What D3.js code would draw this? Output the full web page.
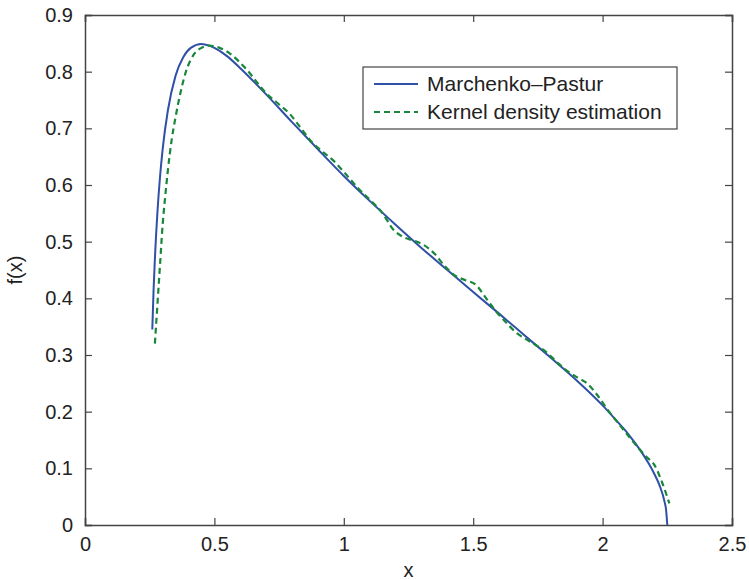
<!DOCTYPE html>
<html>
<head>
<meta charset="utf-8">
<title>Marchenko-Pastur vs KDE</title>
<script src="https://cdn.jsdelivr.net/npm/d3@7"></script>
<style>
body { margin: 0; background: #fff; }
svg text { font-family: "Liberation Sans", Arial, Helvetica, sans-serif; fill: #222; }
.line { fill: none; }
</style>
</head>
<body>
<script>
// x ticks / y ticks
var xTicks = [0, 0.5, 1, 1.5, 2, 2.5];
var yTicks = [0, 0.1, 0.2, 0.3, 0.4, 0.5, 0.6, 0.7, 0.8, 0.9];

// Marchenko-Pastur curve
var mpX = [0.26, 0.265, 0.27, 0.28, 0.29, 0.30, 0.32, 0.35, 0.38, 0.41, 0.45, 0.48, 0.50, 0.55, 0.60,
    0.70, 0.80, 0.90, 1.00, 1.10, 1.20, 1.30, 1.40, 1.50, 1.60, 1.70, 1.80, 1.90, 2.00,
    2.05, 2.10, 2.15, 2.18, 2.20, 2.22, 2.24, 2.245, 2.25];
var mpY = [0.345, 0.415, 0.469, 0.553, 0.615, 0.663, 0.731, 0.793, 0.826, 0.8425, 0.849, 0.846, 0.842, 0.827, 0.806,
    0.760, 0.711, 0.663, 0.616, 0.572, 0.530, 0.489, 0.450, 0.411, 0.373, 0.334, 0.295, 0.255, 0.211,
    0.186, 0.160, 0.129, 0.107, 0.090, 0.070, 0.040, 0.028, 0.0];

// kernel density estimate
var kdeX = [0.27, 0.28, 0.29, 0.30, 0.31, 0.32, 0.335, 0.35, 0.37, 0.39, 0.42, 0.45, 0.48, 0.52, 0.56,
    0.62, 0.70, 0.75, 0.79, 0.83, 0.87, 0.92, 0.96, 1.01, 1.06, 1.11, 1.15, 1.19, 1.23, 1.27,
    1.31, 1.35, 1.39, 1.43, 1.47, 1.51, 1.55, 1.59, 1.63, 1.67, 1.70, 1.74, 1.78, 1.82, 1.86,
    1.90, 1.94, 1.98, 2.02, 2.06, 2.10, 2.14, 2.17, 2.20, 2.23, 2.258];
var kdeY = [0.32, 0.39, 0.46, 0.53, 0.58, 0.625, 0.68, 0.72, 0.765, 0.80, 0.83, 0.842, 0.846, 0.842, 0.832,
    0.806, 0.762, 0.742, 0.726, 0.703, 0.679, 0.658, 0.643, 0.618, 0.592, 0.570, 0.550, 0.522, 0.508, 0.502,
    0.494, 0.479, 0.457, 0.440, 0.432, 0.424, 0.400, 0.376, 0.356, 0.338, 0.329, 0.318, 0.306, 0.289, 0.273,
    0.261, 0.250, 0.229, 0.203, 0.180, 0.157, 0.135, 0.120, 0.106, 0.075, 0.038];

var seriesNames = ["Marchenko\u2013Pastur", "Kernel density estimation"];
var seriesColors = ["#3050a8", "#18873a"];

var width = 749, height = 580,
    margins = {top: 15, left: 85, right: 17, bottom: 55};

var w = width - margins.left - margins.right,
    h = height - margins.top - margins.bottom;

var x = d3.scaleLinear().domain([0, 2.5]).range([0, w]);
var y = d3.scaleLinear().domain([0, 0.9]).range([h, 0]);

var svg = d3.select("body").append("svg")
    .attr("width", width)
    .attr("height", height);

var g = svg.append("g")
    .attr("transform", "translate(" + margins.left + "," + margins.top + ")");

var tickLen = 7;
var axisColor = "#444";

// bottom/left axes with labels, top/right with ticks only
var xAxis = g.append("g")
    .attr("transform", "translate(0," + h + ")")
    .call(d3.axisBottom(x).tickValues(xTicks).tickSize(-tickLen).tickPadding(12)
        .tickFormat(function (d) { return d; }));
var yAxis = g.append("g")
    .call(d3.axisLeft(y).tickValues(yTicks).tickSize(-tickLen).tickPadding(12)
        .tickFormat(function (d) { return d; }));
var xTop = g.append("g")
    .call(d3.axisTop(x).tickValues(xTicks).tickSize(-tickLen).tickFormat(""));
var yRight = g.append("g")
    .attr("transform", "translate(" + w + ",0)")
    .call(d3.axisRight(y).tickValues(yTicks).tickSize(-tickLen).tickFormat(""));

[xAxis, yAxis, xTop, yRight].forEach(function (a) {
    a.select(".domain").attr("stroke", axisColor).attr("stroke-width", 1.5);
    a.selectAll(".tick line").attr("stroke", axisColor).attr("stroke-width", 1.2);
    a.selectAll(".tick text").style("font-size", "20px").attr("fill", "#222");
});

// axis titles
svg.append("text")
    .attr("x", margins.left + w / 2)
    .attr("y", 577)
    .attr("text-anchor", "middle")
    .style("font-size", "20px")
    .text("x");

svg.append("text")
    .attr("transform", "translate(22," + (margins.top + h / 2) + ") rotate(-90)")
    .attr("text-anchor", "middle")
    .style("font-size", "20px")
    .text("f(x)");

var line = d3.line()
    .x(function (d) { return x(d[0]); })
    .y(function (d) { return y(d[1]); })
    .curve(d3.curveMonotoneX);

var mpData = d3.zip(mpX, mpY);
var kdeData = d3.zip(kdeX, kdeY);

g.append("path")
    .datum(mpData)
    .attr("class", "line")
    .attr("stroke", seriesColors[0])
    .attr("stroke-width", 2)
    .attr("d", line);

g.append("path")
    .datum(kdeData)
    .attr("class", "line")
    .attr("stroke", seriesColors[1])
    .attr("stroke-width", 2.2)
    .attr("stroke-dasharray", "6,4")
    .attr("d", line);

// legend
var legend = svg.append("g").attr("transform", "translate(363,67)");
legend.append("rect")
    .attr("width", 314)
    .attr("height", 62)
    .attr("fill", "#fff")
    .attr("stroke", axisColor)
    .attr("stroke-width", 1.2);

seriesNames.forEach(function (name, i) {
    var ly = 17 + i * 28;
    legend.append("line")
        .attr("x1", 11).attr("x2", 55)
        .attr("y1", ly).attr("y2", ly)
        .attr("stroke", seriesColors[i])
        .attr("stroke-width", 2)
        .attr("stroke-dasharray", i === 1 ? "6,4" : null);
    legend.append("text")
        .attr("x", 64)
        .attr("y", ly + 7)
        .style("font-size", "21px")
        .text(name);
});
</script>
</body>
</html>
